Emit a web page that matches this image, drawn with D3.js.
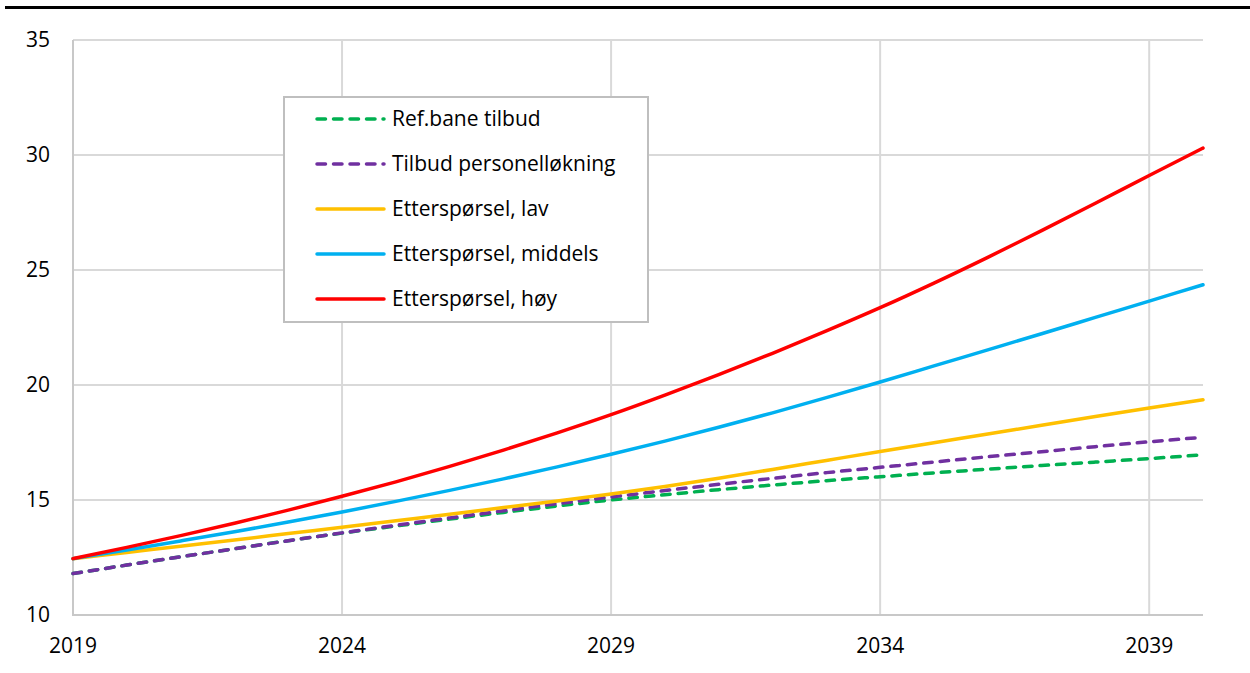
<!DOCTYPE html>
<html>
<head>
<meta charset="utf-8">
<script src="https://cdn.jsdelivr.net/npm/d3@7"></script>
<style>
  html, body { margin: 0; padding: 0; background: #fff; }
  svg { display: block; font-family: "Open Sans", sans-serif; }
</style>
</head>
<body>
<div class="chart"></div>
<script>
// år og serier lest av figuren
const years = d3.range(2019, 2041)
const refTilbud = [11.8, 12.17, 12.53, 12.88, 13.23, 13.56, 13.87, 14.17, 14.46, 14.74, 15.0,
    15.23, 15.45, 15.65, 15.84, 16.01, 16.18, 16.34, 16.5, 16.65, 16.8, 16.97]
const tilbudPersonell = [11.8, 12.17, 12.53, 12.88, 13.23, 13.57, 13.9, 14.22, 14.53, 14.84, 15.13,
    15.41, 15.68, 15.94, 16.19, 16.42, 16.65, 16.88, 17.1, 17.32, 17.53, 17.73]
const ettLav = [12.45, 12.72, 12.99, 13.26, 13.54, 13.82, 14.1, 14.38, 14.67, 14.96, 15.26,
    15.59, 15.95, 16.33, 16.72, 17.11, 17.49, 17.87, 18.25, 18.63, 19.0, 19.36]
const ettMiddels = [12.45, 12.83, 13.22, 13.62, 14.04, 14.48, 14.94, 15.42, 15.92, 16.44, 16.99,
    17.56, 18.16, 18.79, 19.45, 20.13, 20.83, 21.53, 22.23, 22.94, 23.65, 24.36]
const ettHoy = [12.45, 12.94, 13.45, 13.99, 14.56, 15.16, 15.79, 16.46, 17.17, 17.92, 18.71,
    19.56, 20.45, 21.38, 22.35, 23.36, 24.43, 25.55, 26.71, 27.9, 29.11, 30.3]
const seriesNames = ["Ref.bane tilbud", "Tilbud personelløkning", "Etterspørsel, lav", "Etterspørsel, middels", "Etterspørsel, høy"]
const xTicks = [2019, 2024, 2029, 2034, 2039]
const yTicks = [10, 15, 20, 25, 30, 35]

let width = 1250, height = 673
let svg = d3.select(".chart")
    .append("svg")
    .attr("width", width)
    .attr("height", height)

// svart strek øverst
svg.append("rect")
    .attr("x", 5).attr("y", 6)
    .attr("width", width - 5).attr("height", 3)
    .attr("fill", "#000")

let xScale = d3.scaleLinear().domain([2019, 2040]).range([73, 1203])
let yScale = d3.scaleLinear().domain([10, 35]).range([615, 40])

// rutenett
svg.append("g")
    .selectAll("line")
    .data(yTicks)
    .enter()
    .append("line")
    .attr("x1", xScale(2019)).attr("x2", xScale(2040))
    .attr("y1", d => yScale(d)).attr("y2", d => yScale(d))
    .attr("stroke", "#d9d9d9")
    .attr("stroke-width", 2)
svg.append("g")
    .selectAll("line")
    .data(xTicks.slice(1))
    .enter()
    .append("line")
    .attr("x1", d => xScale(d)).attr("x2", d => xScale(d))
    .attr("y1", yScale(35)).attr("y2", yScale(10))
    .attr("stroke", "#d9d9d9")
    .attr("stroke-width", 2)
// akser
svg.append("path")
    .attr("d", `M${xScale(2019)},${yScale(35)} V${yScale(10)} H${xScale(2040)}`)
    .attr("fill", "none")
    .attr("stroke", "#c8c8c8")
    .attr("stroke-width", 2)

svg.append("g")
    .selectAll("text")
    .data(yTicks)
    .enter()
    .append("text")
    .attr("x", 50)
    .attr("y", d => yScale(d))
    .attr("dy", "0.35em")
    .attr("text-anchor", "end")
    .attr("font-size", 21)
    .attr("fill", "#000")
    .text(d => d)
svg.append("g")
    .selectAll("text")
    .data(xTicks)
    .enter()
    .append("text")
    .attr("x", d => xScale(d))
    .attr("y", 646)
    .attr("dy", "0.35em")
    .attr("text-anchor", "middle")
    .attr("font-size", 21)
    .attr("fill", "#000")
    .text(d => d)

// linjer
let series = [
    { name: seriesNames[0], values: refTilbud, color: "#00b050", dash: "8.5,8" },
    { name: seriesNames[1], values: tilbudPersonell, color: "#7030a0", dash: "8.5,8" },
    { name: seriesNames[2], values: ettLav, color: "#ffc000", dash: null },
    { name: seriesNames[3], values: ettMiddels, color: "#00b0f0", dash: null },
    { name: seriesNames[4], values: ettHoy, color: "#ff0000", dash: null }
]
let line = d3.line()
    .x((d, i) => xScale(years[i]))
    .y(d => yScale(d))
    .curve(d3.curveMonotoneX)
svg.append("g")
    .selectAll("path")
    .data(series)
    .enter()
    .append("path")
    .attr("d", d => line(d.values))
    .attr("fill", "none")
    .attr("stroke", d => d.color)
    .attr("stroke-width", 3.5)
    .attr("stroke-linecap", "round")
    .attr("stroke-dasharray", d => d.dash)

// legende
let legend = svg.append("g")
legend.append("rect")
    .attr("x", 284).attr("y", 97)
    .attr("width", 364).attr("height", 225)
    .attr("fill", "#fff")
    .attr("stroke", "#bfbfbf")
    .attr("stroke-width", 2)
let rows = legend.selectAll("g")
    .data(series)
    .enter()
    .append("g")
    .attr("transform", (d, i) => `translate(0,${119 + i * 45})`)
rows.append("line")
    .attr("x1", 317).attr("x2", 384)
    .attr("stroke", d => d.color)
    .attr("stroke-width", 3.5)
    .attr("stroke-linecap", "round")
    .attr("stroke-dasharray", d => d.dash)
rows.append("text")
    .attr("x", 392)
    .attr("dy", "0.35em")
    .attr("font-size", 21)
    .attr("fill", "#000")
    .text(d => d.name)
</script>
</body>
</html>
